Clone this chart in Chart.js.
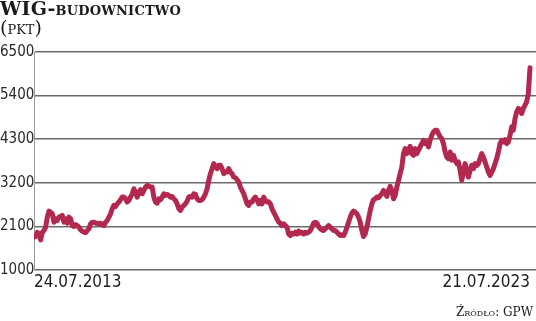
<!DOCTYPE html>
<html>
<head>
<meta charset="utf-8">
<script src="https://cdn.jsdelivr.net/npm/chart.js@4/dist/chart.umd.min.js"></script>
<style>
  html, body { margin: 0; padding: 0; background: #fff; }
  #wrap { position: relative; width: 536px; height: 321px; overflow: hidden; background: #fff; }
  #c { position: absolute; left: 0; top: 0; }
  #title { position: absolute; left: 0; top: -3px; font-family: 'DejaVu Serif', serif; font-weight: bold; font-size: 19px; font-variant: small-caps; color: #1a1a1a; white-space: nowrap; letter-spacing: 0.2px; }
  #unit { position: absolute; left: 0; top: 16px; font-family: 'DejaVu Serif', serif; font-size: 19px; font-variant: small-caps; color: #1a1a1a; white-space: nowrap; }
  #source { position: absolute; right: 3px; top: 305px; font-family: 'DejaVu Serif', serif; font-size: 12px; font-variant: small-caps; color: #1a1a1a; white-space: nowrap; }
</style>
</head>
<body>
<div id="wrap">
  <canvas id="c" width="536" height="321"></canvas>
  <div id="title">WIG-budownictwo</div>
  <div id="unit">(pkt)</div>
  <div id="source">Źródło: GPW</div>
</div>
<script>
// Tick labels
const yTicks = [1000, 2100, 3200, 4300, 5400, 6500];
const xTickLabels = ['24.07.2013', '21.07.2023'];

// WIG-budownictwo index values (points), 24.07.2013 -> 21.07.2023
const values2013_2018 = [
  1827,1844,1953,1911,1759,1953,1995,2080,2333,2485,2459,2417,2206,2291,2249,2333,2350,2375,2206,2291,
  2181,2333,2291,2122,2097,2147,2122,2080,2012,1979,1953,1945,1995,2038,2164,2206,2206,2181,2181,2164,
  2181,2147,2122,2206,2249,2333,2417,2544,2628,2603,2670,2713,2772,2839,2839,2797,2713,2755,2839,2923,
  3050,2966,2839,2966,3025,2923,3008,3092,3134,3117,3092,3092,2839,2713,2687,2797,2772,2839,2923,2881,
  2907,2881,2839,2856,2797,2755,2670,2544,2502,2586,2628,2670,2738,2839,2856,2839,2923,2907,2797,2755,
  2755,2772,2839,2923,3050,3261,3430,3556,3683,3598,3556,3640,3640,3556,3430,3472,3472,3556,3472,3430,
  3345,3328,3278,3219,3092,3008,2923,2797,2670,2628,2713,2713,2797,2839,2772,2670,2755,2670,2839,2755,
  2713
];
const values2018_2023 = [
  2720,2670,2544,2459,2375,2291,2206,2181,2122,2164,2122,2080,1911,1869,1928,1911,1953,1911,1979,1928,
  1953,1911,1953,1928,1953,1995,2080,2181,2206,2181,2097,2038,2012,1995,2038,2080,2122,2080,2038,1995,
  1995,1953,1911,1869,1886,1869,1953,2080,2206,2333,2434,2485,2459,2417,2333,2206,1995,1844,1911,2080,
  2291,2502,2670,2772,2797,2839,2822,2881,2923,3008,2940,2856,3008,3109,3008,2797,2881,3092,3261,3430,
  3598,3936,4062,3936,4020,4121,3936,3894,4062,3936,4020,4104,4189,4273,4189,4231,4104,4273,4400,4484,
  4526,4526,4442,4358,4315,4189,3978,3851,3809,3978,3767,3894,3767,3683,3725,3514,3261,3472,3683,3514,
  3345,3514,3640,3556,3683,3640,3683,3809,3936,3851,3725,3598,3472,3387,3472,3556,3683,3809,3978,4189,
  4273,4231,4290,4189,4231,4400,4611,4526,4821,4990,5075,5049,4948,5075,5159,5243,5454,6100
];

const series = values2013_2018.concat(values2018_2023);
const points = series.map((v, i) => ({ x: i, y: v }));
const lastIndex = series.length - 1;

new Chart(document.getElementById('c'), {
  type: 'line',
  data: {
    datasets: [{
      data: points,
      borderColor: '#b2284f',
      borderWidth: 5,
      pointRadius: 0,
      tension: 0,
      borderJoinStyle: 'round',
      borderCapStyle: 'round',
      fill: false
    }]
  },
  options: {
    responsive: false,
    devicePixelRatio: 1,
    animation: false,
    events: [],
    layout: { padding: { top: 52, bottom: 26, left: 0, right: 0 } },
    plugins: { legend: { display: false }, tooltip: { enabled: false }, title: { display: false } },
    scales: {
      x: {
        type: 'linear',
        min: 0,
        max: lastIndex * 502 / 496,
        grid: { display: false, drawTicks: false },
        border: { display: false },
        afterBuildTicks: (scale) => { scale.ticks = [{ value: 0 }, { value: lastIndex }]; },
        ticks: {
          autoSkip: false,
          maxRotation: 0,
          minRotation: 0,
          align: 'inner',
          padding: 4,
          color: '#1e1e1e',
          font: { family: "'Liberation Sans Narrow', 'DejaVu Sans Condensed', sans-serif", size: 17, lineHeight: 1 },
          callback: (value, index) => xTickLabels[index]
        }
      },
      y: {
        type: 'linear',
        min: yTicks[0],
        max: yTicks[yTicks.length - 1],
        afterBuildTicks: (scale) => { scale.ticks = yTicks.map(v => ({ value: v })); },
        afterFit: (scale) => { scale.width = 34; },
        grid: { color: '#6b6b6b', lineWidth: 1.5, drawTicks: false },
        border: { display: true, color: '#9a9a9a', width: 1 },
        ticks: {
          crossAlign: 'far',
          padding: 0,
          color: '#2a2a2a',
          font: { family: "'Liberation Sans Narrow', 'DejaVu Sans Condensed', sans-serif", size: 15 },
          callback: (v) => String(v)
        }
      }
    }
  }
});
</script>
</body>
</html>
